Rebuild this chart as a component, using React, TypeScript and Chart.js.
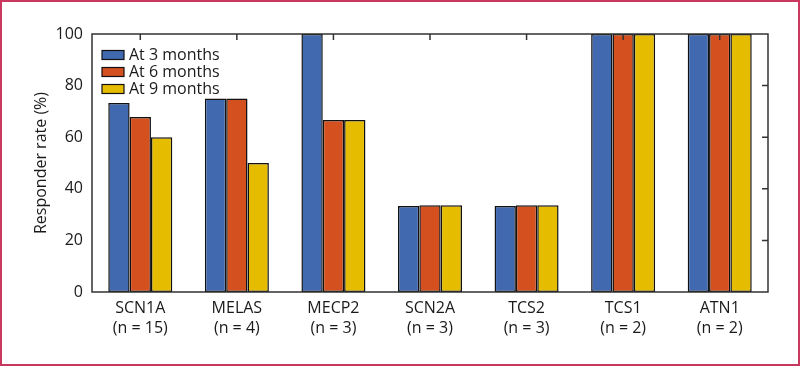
import React, { useEffect, useRef } from "react";
import { Chart, registerables } from "chart.js";

Chart.register(...registerables);

const categories: string[][] = [
  ["SCN1A", "(n = 15)"],
  ["MELAS", "(n = 4)"],
  ["MECP2", "(n = 3)"],
  ["SCN2A", "(n = 3)"],
  ["TCS2", "(n = 3)"],
  ["TCS1", "(n = 2)"],
  ["ATN1", "(n = 2)"],
];
const seriesNames = ["At 3 months", "At 6 months", "At 9 months"];
const at3Months = [73.3, 75, 100, 33.3, 33.3, 100, 100];
const at6Months = [67.8, 75, 66.7, 33.6, 33.6, 100, 100];
const at9Months = [60, 50, 66.7, 33.6, 33.6, 100, 100];
const seriesColors = ["#4169b0", "#d4501f", "#e6bc00"];
const yTicks = [0, 20, 40, 60, 80, 100];

const FONT = "'Open Sans', 'DejaVu Sans', sans-serif";
const TEXT = "#1a1a1a";
const AXIS = "#333333";

const framePlugin = {
  id: "frame",
  afterDatasetsDraw(chart: any) {
    const { ctx, chartArea } = chart;
    const { left, right, top, bottom } = chartArea;
    const xs = chart.scales.x;
    const ys = chart.scales.y;
    ctx.save();
    ctx.strokeStyle = AXIS;
    ctx.lineWidth = 1.5;
    ctx.beginPath();
    ctx.rect(left, top, right - left, bottom - top);
    ctx.stroke();
    ctx.beginPath();
    for (let i = 0; i < categories.length; i++) {
      const px = xs.getPixelForValue(i);
      ctx.moveTo(px, top);
      ctx.lineTo(px, top + 6);
    }
    for (const v of yTicks) {
      if (v === 0 || v === 100) continue;
      const py = ys.getPixelForValue(v);
      ctx.moveTo(right, py);
      ctx.lineTo(right - 6, py);
    }
    ctx.stroke();

    // legend inside plot
    const boxX = left + 10;
    const boxW = 22;
    const boxH = 9;
    const startY = top + 21;
    const gap = 17;
    ctx.font = `16px ${FONT}`;
    ctx.textBaseline = "middle";
    ctx.textAlign = "left";
    chart.data.datasets.forEach((ds: any, i: number) => {
      const cy = startY + i * gap;
      ctx.fillStyle = ds.backgroundColor;
      ctx.fillRect(boxX, cy - boxH / 2, boxW, boxH);
      ctx.strokeStyle = "#111111";
      ctx.lineWidth = 1.2;
      ctx.strokeRect(boxX, cy - boxH / 2, boxW, boxH);
      ctx.fillStyle = TEXT;
      ctx.fillText(ds.label, boxX + boxW + 5, cy + 0.5);
    });
    ctx.restore();
  },
};

export default function App() {
  const ref = useRef<HTMLCanvasElement | null>(null);
  useEffect(() => {
    document.body.style.margin = "0";
    if (!ref.current) return;
    const values = [at3Months, at6Months, at9Months];
    const chart = new Chart(ref.current, {
      type: "bar",
      data: {
        labels: categories,
        datasets: seriesNames.map((name, i) => ({
          label: name,
          data: values[i],
          backgroundColor: seriesColors[i],
          borderColor: "#111111",
          borderWidth: 1.5,
          borderSkipped: false,
          categoryPercentage: 0.663,
          barPercentage: 1,
        })),
      },
      options: {
        responsive: false,
        animation: false,
        layout: { padding: { top: 34, right: 32, left: 0, bottom: 0 } },
        plugins: { legend: { display: false }, tooltip: { enabled: false } },
        scales: {
          x: {
            grid: { display: false, drawTicks: false },
            border: { display: false },
            ticks: {
              color: TEXT,
              font: { family: FONT, size: 16, lineHeight: 1.25 },
              padding: 6,
              maxRotation: 0,
              autoSkip: false,
            },
            afterFit: (s: any) => {
              s.height = 74;
            },
          },
          y: {
            min: 0,
            max: 100,
            grid: { display: false, drawTicks: false },
            border: { display: false },
            ticks: {
              stepSize: 20,
              color: TEXT,
              font: { family: FONT, size: 16 },
              padding: 9,
            },
            title: {
              display: true,
              text: "Responder rate (%)",
              color: TEXT,
              font: { family: FONT, size: 16, lineHeight: 1.2 },
              padding: { top: 32, bottom: 0 },
            },
            afterFit: (s: any) => {
              s.width = 92;
            },
          },
        },
      },
      plugins: [framePlugin],
    });
    return () => chart.destroy();
  }, []);
  return (
    <div style={{ position: "relative", width: 800, height: 366 }}>
      <canvas ref={ref} width={800} height={366} style={{ display: "block" }} />
      <div
        style={{
          position: "absolute",
          inset: 0,
          border: "2px solid #c9385e",
          boxSizing: "border-box",
          pointerEvents: "none",
        }}
      />
    </div>
  );
}
